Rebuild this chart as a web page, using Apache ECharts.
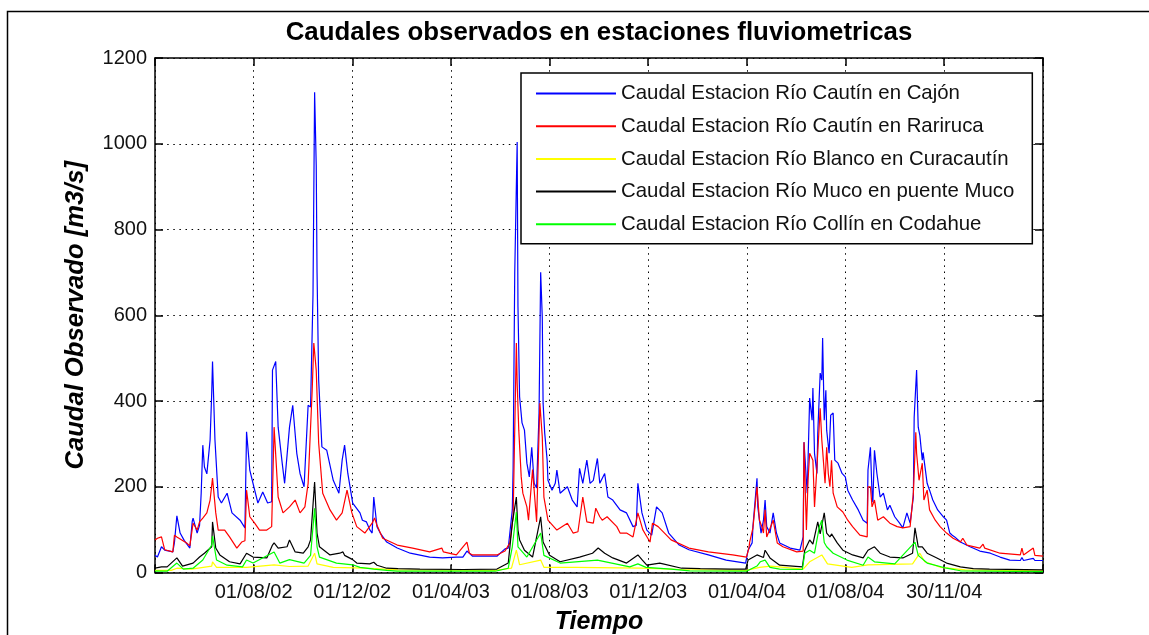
<!DOCTYPE html>
<html>
<head>
<meta charset="utf-8">
<script src="https://cdn.jsdelivr.net/npm/echarts@6/dist/echarts.min.js"></script>
<style>
html,body{margin:0;padding:0;background:#fff;}
#chart{width:1149px;height:635px;}
</style>
</head>
<body>
<div id="chart"></div>
<script>
// Day index counted from 01/04/2002 (day 0) to 01/04/2005 (day 1096)
const xTickLabels = ['', '01/08/02', '01/12/02', '01/04/03', '01/08/03', '01/12/03', '01/04/04', '01/08/04', '30/11/04', ''];
const xTickStep = 121.75;
const seriesNames = [
  'Caudal Estacion Río Cautín en Cajón',
  'Caudal Estacion Río Cautín en Rariruca',
  'Caudal Estacion Río Blanco en Curacautín',
  'Caudal Estacion Río Muco en puente Muco',
  'Caudal Estacion Río Collín en Codahue'
];
const seriesColors = ['#0000ff', '#ff0000', '#ffff00', '#000000', '#00ff00'];

const cajon = [[0,40],[3,36],[8,60],[12,52],[22,48],[24,70],[27,132],[31,92],[36,75],[43,57],[46,120],[47,127],[52,92],[55,110],[57,185],[59,297],[61,246],[64,230],[68,309],[70,418],[71,492],[74,309],[78,176],[82,162],[89,185],[95,139],[105,122],[111,104],[113,328],[117,239],[122,200],[127,162],[133,188],[139,162],[144,165],[145,472],[149,492],[152,339],[157,255],[160,208],[166,339],[170,390],[175,278],[179,231],[184,200],[189,390],[192,386],[195,647],[197,1120],[199,950],[200,700],[202,449],[206,293],[212,285],[220,215],[227,185],[231,262],[234,297],[236,293],[238,231],[244,162],[253,139],[256,122],[261,118],[265,100],[268,92],[270,176],[274,107],[278,92],[286,71],[299,57],[315,45],[339,36],[355,34],[372,36],[380,36],[385,50],[392,38],[422,38],[432,55],[436,57],[441,146],[442,243],[444,698],[447,1004],[448,620],[449,620],[450,410],[453,349],[456,332],[459,255],[462,223],[465,292],[468,208],[471,197],[474,372],[476,700],[478,595],[479,395],[481,325],[484,262],[485,215],[490,192],[494,208],[496,239],[500,185],[509,200],[515,169],[521,153],[524,243],[528,208],[533,262],[537,208],[541,215],[546,266],[549,208],[555,231],[559,176],[565,169],[574,146],[582,139],[590,107],[594,110],[596,208],[601,139],[607,99],[613,87],[619,153],[626,139],[634,92],[647,64],[659,53],[683,41],[705,29],[729,22],[732,52],[737,69],[738,107],[743,220],[744,153],[748,92],[751,122],[753,169],[755,107],[759,92],[763,139],[767,92],[771,69],[784,57],[796,52],[800,83],[801,304],[804,215],[805,185],[808,407],[811,355],[812,430],[814,278],[817,231],[818,325],[821,465],[823,449],[824,547],[826,355],[828,425],[829,332],[832,278],[834,367],[837,372],[839,262],[843,255],[848,231],[852,223],[855,192],[861,169],[868,146],[874,122],[879,115],[880,239],[883,292],[885,185],[886,164],[888,285],[891,231],[895,176],[899,185],[904,146],[907,157],[913,130],[919,115],[923,104],[928,139],[932,115],[936,176],[937,362],[940,472],[942,339],[944,320],[947,262],[948,280],[953,208],[956,192],[960,169],[966,146],[973,130],[977,122],[981,92],[984,87],[987,83],[994,71],[1006,60],[1018,50],[1031,45],[1043,36],[1055,29],[1068,28],[1070,35],[1072,28],[1084,33],[1086,28],[1096,28]];

const rariruca = [[0,76],[3,80],[8,83],[12,53],[22,48],[24,87],[27,83],[39,69],[43,62],[47,115],[52,99],[55,118],[59,127],[64,139],[68,169],[71,220],[75,139],[78,99],[86,99],[92,83],[101,57],[107,71],[111,74],[113,192],[117,130],[123,115],[129,99],[138,99],[144,107],[147,339],[152,176],[158,139],[166,153],[173,169],[179,139],[185,153],[189,208],[194,425],[196,535],[199,472],[202,302],[207,185],[216,146],[224,122],[231,139],[237,192],[243,139],[249,107],[259,92],[268,115],[271,127],[274,110],[281,80],[299,64],[318,57],[339,48],[354,57],[356,48],[372,41],[385,71],[388,45],[392,41],[422,41],[432,50],[438,69],[442,130],[446,535],[447,442],[449,332],[452,223],[454,185],[459,153],[461,122],[466,240],[471,118],[475,395],[478,316],[480,176],[485,122],[496,99],[509,115],[516,92],[522,95],[528,176],[533,118],[541,115],[544,150],[549,130],[552,122],[558,130],[570,107],[574,92],[582,92],[590,83],[596,139],[602,100],[606,87],[611,71],[614,115],[621,107],[637,76],[659,57],[683,48],[713,41],[730,36],[733,57],[734,71],[738,104],[743,200],[746,122],[749,107],[751,92],[753,146],[755,83],[763,122],[768,69],[775,60],[792,48],[800,50],[801,304],[804,99],[806,215],[808,278],[812,262],[814,153],[817,246],[821,383],[823,309],[824,285],[827,208],[829,292],[831,231],[833,200],[835,262],[837,185],[842,153],[849,141],[855,122],[861,107],[870,87],[879,83],[880,200],[883,200],[885,153],[888,169],[892,122],[899,130],[907,115],[916,107],[923,104],[932,107],[936,185],[939,327],[940,278],[943,215],[947,255],[949,169],[953,192],[956,146],[963,122],[969,107],[977,92],[985,80],[994,71],[997,80],[1002,64],[1018,57],[1022,66],[1024,57],[1043,45],[1068,41],[1070,57],[1072,41],[1084,57],[1086,40],[1096,38]];

const blanco = [[0,5],[20,5],[27,10],[45,8],[70,15],[71,25],[76,12],[113,12],[147,18],[166,14],[189,15],[197,45],[200,20],[220,12],[260,10],[300,6],[420,5],[440,10],[446,52],[450,18],[476,29],[480,12],[520,12],[600,10],[650,7],[730,5],[746,12],[760,15],[800,8],[808,25],[823,41],[830,20],[860,12],[880,18],[935,20],[944,45],[950,25],[970,12],[1000,6],[1096,4]];

const muco = [[0,10],[8,13],[15,13],[27,34],[34,15],[47,22],[55,36],[61,45],[70,60],[71,118],[75,57],[80,41],[92,25],[105,20],[113,45],[121,36],[138,34],[145,64],[147,69],[152,57],[163,60],[166,76],[173,48],[183,45],[189,60],[192,76],[197,211],[200,92],[203,60],[216,41],[228,45],[232,48],[234,40],[244,30],[249,22],[265,20],[270,24],[274,17],[286,10],[300,9],[327,8],[380,7],[422,8],[436,22],[441,115],[446,176],[448,99],[450,76],[456,52],[466,36],[476,130],[479,71],[487,40],[500,25],[524,36],[540,45],[547,57],[555,45],[565,34],[582,22],[596,41],[601,30],[607,17],[623,22],[650,10],[673,9],[710,8],[729,8],[732,29],[743,41],[751,35],[753,52],[759,34],[771,17],[799,13],[802,52],[808,76],[812,66],[818,118],[821,90],[826,139],[829,92],[833,83],[835,90],[842,69],[849,52],[861,41],[874,34],[880,52],[888,60],[895,45],[907,36],[923,34],[935,45],[938,104],[942,60],[947,60],[953,45],[965,34],[977,22],[994,13],[1010,9],[1030,8],[1096,6]];

const collin = [[0,3],[15,3],[27,22],[35,8],[47,10],[59,29],[70,64],[71,85],[76,29],[89,17],[108,13],[113,29],[121,22],[147,48],[154,22],[166,30],[184,22],[192,40],[197,150],[200,60],[203,36],[224,22],[244,18],[253,12],[270,8],[286,5],[299,3],[420,3],[436,10],[441,60],[446,141],[448,60],[459,36],[476,92],[480,40],[500,22],[546,29],[586,13],[596,20],[606,12],[637,8],[660,4],[730,3],[743,15],[747,25],[753,29],[759,12],[771,8],[799,7],[802,45],[808,52],[814,45],[820,107],[823,122],[826,70],[829,60],[837,45],[854,29],[874,17],[880,36],[888,25],[913,20],[938,71],[942,40],[953,22],[977,10],[994,4],[1096,2]];

const seriesData = [cajon, rariruca, blanco, muco, collin];

const FONT = "'Liberation Sans', Arial, sans-serif";
const chart = echarts.init(document.getElementById('chart'), null, {renderer: 'canvas'});

const dotted = {color: '#000', width: 1, type: [1.5, 4.6]};
const tickStyle = {show: true, inside: true, length: 8, lineStyle: {color: '#000', width: 1.5}};

chart.setOption({
  animation: false,
  backgroundColor: '#fff',
  grid: {left: 155, top: 58, right: 106, bottom: 62.5, show: false, containLabel: false, outerBoundsMode: 'none'},
  graphic: [
    {type: 'polyline', silent: true, shape: {points: [[7.5, 660], [7.5, 11.5], [1160, 11.5]]}, style: {stroke: '#000', lineWidth: 1.5, fill: null}},
    {type: 'text', x: 599, y: 33, style: {text: 'Caudales observados en estaciones fluviometricas', font: 'bold 25.8px ' + FONT, fill: '#000', textAlign: 'center', textVerticalAlign: 'middle'}}
  ],
  legend: {
    data: seriesNames,
    orient: 'vertical',
    left: 521, top: 73,
    icon: 'rect',
    itemWidth: 80, itemHeight: 2,
    itemGap: 10.7,
    padding: [9.5, 18, 8.5, 15],
    backgroundColor: '#fff',
    borderColor: '#000', borderWidth: 1.5,
    selectedMode: false,
    textStyle: {fontFamily: FONT, fontSize: 20.4, color: '#111', lineHeight: 22}
  },
  xAxis: [{
    type: 'value', min: 0, max: 1096, interval: xTickStep, position: 'bottom',
    name: 'Tiempo', nameLocation: 'middle', nameGap: 37,
    nameTextStyle: {fontFamily: FONT, fontSize: 25, fontWeight: 'bold', fontStyle: 'italic', color: '#000'},
    axisLine: {show: true, onZero: false, lineStyle: {color: '#000', width: 1.5}},
    axisTick: tickStyle,
    axisLabel: {fontFamily: FONT, fontSize: 20, color: '#111', margin: 10,
      formatter: v => xTickLabels[Math.round(v / xTickStep)] || ''},
    splitLine: {show: true, lineStyle: dotted}
  }, {
    type: 'value', min: 0, max: 1096, interval: xTickStep, position: 'top',
    axisLine: {show: true, onZero: false, lineStyle: {color: '#000', width: 1.5}},
    axisTick: tickStyle,
    axisLabel: {show: false}, splitLine: {show: false}
  }],
  yAxis: [{
    type: 'value', min: 0, max: 1200, interval: 200, position: 'left',
    name: 'Caudal Observado [m3/s]', nameLocation: 'middle', nameGap: 66,
    nameTextStyle: {fontFamily: FONT, fontSize: 25.6, fontWeight: 'bold', fontStyle: 'italic', color: '#000'},
    axisLine: {show: true, onZero: false, lineStyle: {color: '#000', width: 1.5}},
    axisTick: tickStyle,
    axisLabel: {fontFamily: FONT, fontSize: 20, color: '#111', margin: 8, formatter: v => String(v)},
    splitLine: {show: true, lineStyle: dotted}
  }, {
    type: 'value', min: 0, max: 1200, interval: 200, position: 'right',
    axisLine: {show: true, onZero: false, lineStyle: {color: '#000', width: 1.5}},
    axisTick: tickStyle,
    axisLabel: {show: false}, splitLine: {show: false}
  }],
  series: seriesNames.map((name, i) => ({
    name: name,
    type: 'line',
    xAxisIndex: 0, yAxisIndex: 0,
    data: seriesData[i],
    symbol: 'none',
    showSymbol: false,
    sampling: null,
    z: 2 + i,
    lineStyle: {color: seriesColors[i], width: 1.2},
    itemStyle: {color: seriesColors[i]}
  }))
});
</script>
</body>
</html>
